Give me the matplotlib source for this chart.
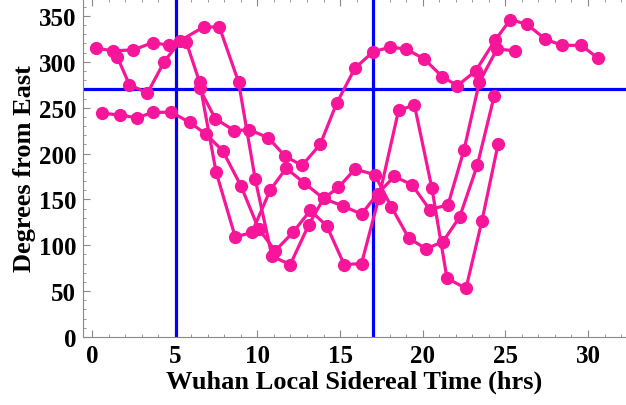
import matplotlib.pyplot as plt
from matplotlib.ticker import MultipleLocator

# four tracks: sidereal time (hrs) vs degrees from East
t_a = [0.6, 1.7, 2.7, 3.7, 4.8, 5.9, 6.9, 7.9, 9.0, 10.07, 11.08, 12.15, 13.2, 14.2,
       15.25, 16.3, 17.35, 18.54, 19.5, 20.56, 21.47, 22.62, 23.59, 24.56]
deg_a = [244, 242, 239, 245, 245, 234, 221, 203, 165, 118, 94, 114, 138, 121,
         79, 80, 152, 247, 253, 162, 64, 53, 127, 210]

t_b = [0.22, 1.25, 2.5, 3.67, 4.64, 5.69, 6.5, 7.5, 8.66, 9.67, 10.77, 11.74, 12.83,
       14.0, 15.15, 16.3, 17.27, 18.28, 19.35, 20.42, 21.53, 22.5, 23.43, 24.5, 25.6]
deg_b = [315, 312, 313, 321, 318, 322, 278, 180, 109, 114, 160, 184, 168,
         151, 143, 134, 156, 175, 166, 139, 144, 204, 278, 314, 312]

t_c = [1.53, 2.26, 3.35, 4.36, 5.33, 6.74, 7.7, 8.86, 9.87, 10.88, 11.99, 13.1, 14.0,
       14.9, 15.9, 17.1, 18.1, 19.15, 20.2, 21.23, 22.24, 23.3, 24.33]
deg_c = [305, 275, 266, 300, 323, 338, 338, 278, 172, 88, 79, 122, 151,
         163, 183, 177, 142, 108, 96, 104, 131, 187, 263]

t_d = [6.5, 7.45, 8.6, 9.52, 10.67, 11.68, 12.7, 13.8, 14.8, 15.9, 17.0, 18.04, 18.99,
       20.1, 21.17, 22.1, 23.2, 24.4, 25.3, 26.3, 27.4, 28.4, 29.6, 30.6]
deg_d = [271, 238, 225, 226, 217, 197, 187, 210, 255, 293, 311, 316, 314,
         303, 284, 274, 290, 324, 346, 341, 325, 318, 318, 304]

vlines = [5.08, 17.0]
hline = 270

pink = '#F7159A'
plt.rcParams['font.family'] = ['Liberation Serif', 'DejaVu Serif']

fig = plt.figure(figsize=(6.26, 4.06), dpi=100)
ax = fig.add_axes([0.1326, 0.1675, 0.8674, 0.8325])

for t, d in [(t_a, deg_a), (t_b, deg_b), (t_c, deg_c), (t_d, deg_d)]:
    ax.plot(t, d, color=pink, lw=2.3, marker='o', ms=8.5, zorder=3)

for v in vlines:
    ax.axvline(v, color='#0000FF', lw=2.3, zorder=2)
ax.axhline(hline, color='#0000FF', lw=2.3, zorder=2)

ax.set_xlim(-0.55, 32.3)
ax.set_ylim(0, 368.5)

ax.xaxis.set_major_locator(MultipleLocator(5))
ax.xaxis.set_minor_locator(MultipleLocator(1))
ax.yaxis.set_major_locator(MultipleLocator(50))
ax.yaxis.set_minor_locator(MultipleLocator(10))
ax.tick_params(which='both', direction='in', color='#888888', top=True)
ax.tick_params(which='major', length=5, width=0.8, labelsize=18, pad=5)
ax.tick_params(which='minor', length=2.5, width=0.6)
for lab in ax.get_xticklabels() + ax.get_yticklabels():
    lab.set_fontweight('bold')

for s in ['left', 'bottom']:
    ax.spines[s].set_color('#888888')
ax.spines['right'].set_visible(False)
ax.spines['top'].set_visible(False)

ax.set_xlabel('Wuhan Local Sidereal Time (hrs)', fontsize=19, fontweight='bold', labelpad=2)
ax.set_ylabel('Degrees from East', fontsize=19, fontweight='bold', labelpad=2)

fig.savefig('out.png', dpi=100)
